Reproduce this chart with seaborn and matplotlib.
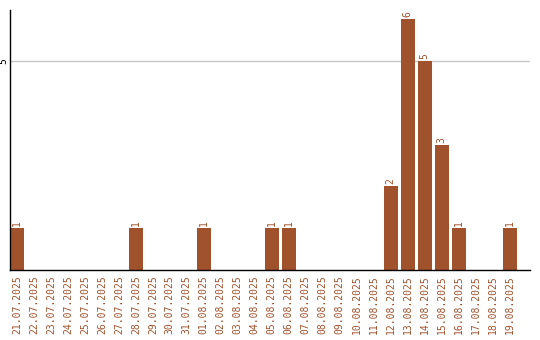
import matplotlib
matplotlib.use("Agg")
import matplotlib.pyplot as plt
import seaborn as sns
import pandas as pd

dates = ["21.07.2025", "22.07.2025", "23.07.2025", "24.07.2025", "25.07.2025",
         "26.07.2025", "27.07.2025", "28.07.2025", "29.07.2025", "30.07.2025",
         "31.07.2025", "01.08.2025", "02.08.2025", "03.08.2025", "04.08.2025",
         "05.08.2025", "06.08.2025", "07.08.2025", "08.08.2025", "09.08.2025",
         "10.08.2025", "11.08.2025", "12.08.2025", "13.08.2025", "14.08.2025",
         "15.08.2025", "16.08.2025", "17.08.2025", "18.08.2025", "19.08.2025"]
counts = [1, 0, 0, 0, 0, 0, 0, 1, 0, 0,
          0, 1, 0, 0, 0, 1, 1, 0, 0, 0,
          0, 0, 2, 6, 5, 3, 1, 0, 0, 1]

color = "#A0522D"
sns.set_style("white")
plt.rcParams["font.family"] = ["DejaVu Sans Mono", "DejaVu Sans"]

df = pd.DataFrame({"date": dates, "count": counts})
fig = plt.figure(figsize=(5.4, 3.4), dpi=100)
ax = fig.add_axes([10 / 540, 70 / 340, 520 / 540, 260 / 340])
sns.barplot(data=df, x="date", y="count", color=color, saturation=1, width=0.83,
            linewidth=0, ax=ax)

for i, v in enumerate(counts):
    if v > 0:
        ax.text(i, v + 0.05, str(v), rotation=90, ha="center", va="bottom",
                color=color, fontsize=7)

ax.set_xlim(-0.41, 30.2)
ax.set_ylim(0, 6.22)
ax.set_yticks([5])
ax.set_yticklabels(["5"], rotation=90, va="center", fontsize=7, color="black")
ax.yaxis.grid(True, color="#c8c8c8", linewidth=1)
ax.set_axisbelow(True)
ax.tick_params(axis="y", length=0, pad=1)
ax.tick_params(axis="x", length=0, pad=4, labelrotation=90, labelsize=7, labelcolor=color)
ax.set_xlabel("")
ax.set_ylabel("")
for s in ["top", "right"]:
    ax.spines[s].set_visible(False)
for s in ["left", "bottom"]:
    ax.spines[s].set_color("black")
    ax.spines[s].set_linewidth(1)

fig.savefig("out.png", dpi=100)
